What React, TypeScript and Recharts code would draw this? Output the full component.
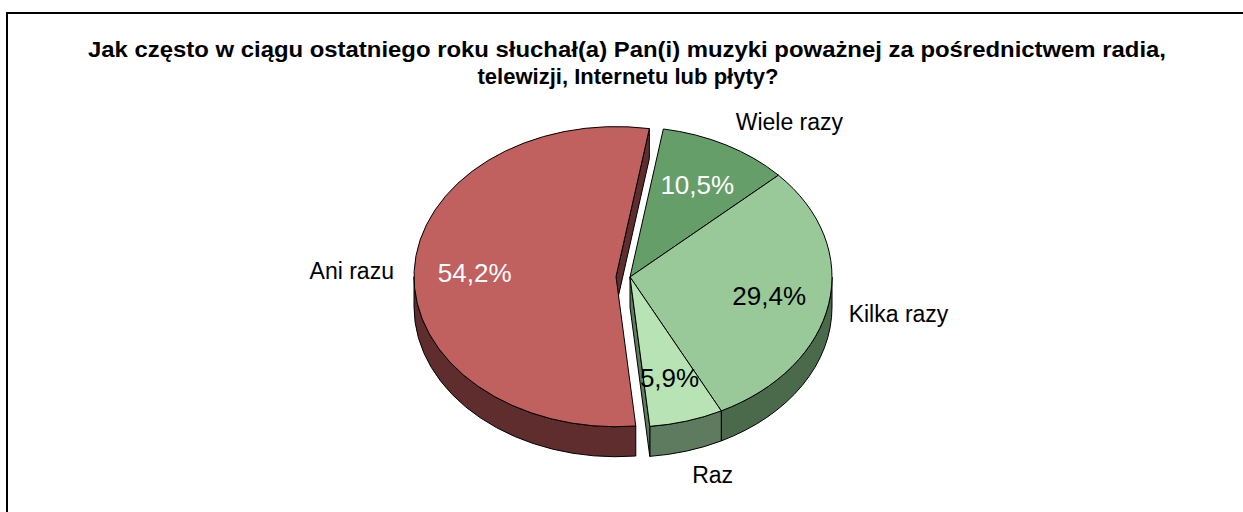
import { PieChart, Pie } from 'recharts';

const CATEGORIES = ['Wiele razy', 'Kilka razy', 'Raz', 'Ani razu'];
const PERCENTS = [10.5, 29.4, 5.9, 54.2];
const EXPLODED = ['Ani razu'];

const TITLE_LINES = [
  'Jak często w ciągu ostatniego roku słuchał(a) Pan(i) muzyki poważnej za pośrednictwem radia,',
  'telewizji, Internetu lub płyty?',
];

const TOP_COLORS = ['#669E6A', '#99C899', '#B8E4B5', '#C0605F'];
const SIDE_COLORS = ['#3F6342', '#4B6A4C', '#5E7A5F', '#5F2D2E'];
const PCT_COLORS = ['#ffffff', '#000000', '#000000', '#ffffff'];

const W = 1243;
const H = 512;
const CX = 630;
const CY = 277;
const RX = 202;
const TILT = 0.743; // vertical squash of the pie
const DEPTH = 30;
const EXPLODE = 14;
const FIRST_ANGLE = 9.5; // clockwise from 12 o'clock
const FONT = '"Liberation Sans", Arial, sans-serif';

const chartData = CATEGORIES.map((name, i) => ({ name, value: PERCENTS[i] }));

const RAD = Math.PI / 180;

const pt = (cx: number, cy: number, r: number, a: number) => [
  cx + r * Math.cos(a * RAD),
  cy - r * TILT * Math.sin(a * RAD),
];

const idxOf = (p: any) => CATEGORIES.indexOf(p.payload?.name ?? p.name);
const isExploded = (i: number) => EXPLODED.includes(CATEGORIES[(i + CATEGORIES.length) % CATEGORIES.length]);

const centerOf = (p: any, i: number) => {
  const mid = p.midAngle ?? (p.startAngle + p.endAngle) / 2;
  const ex = isExploded(i) ? EXPLODE : 0;
  return [p.cx + ex * Math.cos(mid * RAD), p.cy - ex * TILT * Math.sin(mid * RAD)];
};

// side walls + cut faces of each slice
const WallShape = (p: any) => {
  const i = idxOf(p);
  const [cx, cy] = centerOf(p, i);
  const r = p.outerRadius;
  const ry = r * TILT;
  const s = p.startAngle;
  const e = p.endAngle;
  const hi = Math.max(s, e);
  const lo = Math.min(s, e);
  const fill = SIDE_COLORS[i];
  const parts: any[] = [];

  for (let k = -2; k <= 2; k++) {
    const a0 = Math.max(lo, -180 + 360 * k);
    const a1 = Math.min(hi, 360 * k);
    if (a1 > a0) {
      const [x1, y1] = pt(cx, cy, r, a1);
      const [x0, y0] = pt(cx, cy, r, a0);
      const large = a1 - a0 > 180 ? 1 : 0;
      parts.push(
        <path
          key={`w${k}`}
          d={`M${x1},${y1} A${r},${ry} 0 ${large} 1 ${x0},${y0} L${x0},${y0 + DEPTH} A${r},${ry} 0 ${large} 0 ${x1},${y1 + DEPTH} Z`}
          fill={fill}
          stroke="#000"
          strokeWidth={1}
        />
      );
    }
  }

  const face = (a: number, key: string) => {
    const [x, y] = pt(cx, cy, r, a);
    return (
      <path
        key={key}
        d={`M${cx},${cy} L${x},${y} L${x},${y + DEPTH} L${cx},${cy + DEPTH} Z`}
        fill={fill}
        stroke="#000"
        strokeWidth={1}
      />
    );
  };
  if (Math.cos(s * RAD) < 0 && (isExploded(i) || isExploded(i - 1))) parts.push(face(s, 'fs'));
  if (Math.cos(e * RAD) > 0 && (isExploded(i) || isExploded(i + 1))) parts.push(face(e, 'fe'));

  return <g>{parts}</g>;
};

const TopShape = (p: any) => {
  const i = idxOf(p);
  const [cx, cy] = centerOf(p, i);
  const r = p.outerRadius;
  const [xs, ys] = pt(cx, cy, r, p.startAngle);
  const [xe, ye] = pt(cx, cy, r, p.endAngle);
  const large = Math.abs(p.startAngle - p.endAngle) > 180 ? 1 : 0;
  return (
    <path
      d={`M${cx},${cy} L${xs},${ys} A${r},${r * TILT} 0 ${large} 1 ${xe},${ye} Z`}
      fill={TOP_COLORS[i]}
      stroke="#000"
      strokeWidth={1}
    />
  );
};

const renderLabel = (p: any) => {
  const i = idxOf(p);
  const [cx, cy] = centerOf(p, i);
  const r = p.outerRadius;
  const mid = p.midAngle;
  const c = Math.cos(mid * RAD);
  const s = Math.sin(mid * RAD);
  const [px, py] = pt(cx, cy, r * 0.7, mid);
  const [ox, oy0] = pt(cx, cy, r * 1.1, mid);
  const oy = oy0 + (s < 0 ? -s * DEPTH : 0) - 11.5 * s;
  const anchor = c > 0.2 ? 'start' : c < -0.2 ? 'end' : 'middle';
  const value = PERCENTS[i];
  return (
    <g key={`lbl-${i}`}>
      <text x={px} y={py} textAnchor="middle" dominantBaseline="central" fill={PCT_COLORS[i]} fontSize={26} fontFamily={FONT}>
        {value.toFixed(1).replace('.', ',')}%
      </text>
      <text x={ox} y={oy} textAnchor={anchor} dominantBaseline="central" fill="#000" fontSize={23} fontFamily={FONT}>
        {CATEGORIES[i]}
      </text>
    </g>
  );
};

export default function App() {
  return (
    <div style={{ position: 'absolute', left: 0, top: 0, width: W, height: H, overflow: 'hidden', background: '#fff' }}>
      <div
        style={{
          position: 'absolute',
          left: 6,
          top: 12,
          width: W + 100,
          height: H + 100,
          border: '2px solid #000',
          boxSizing: 'border-box',
        }}
      />
      <div style={{ position: 'absolute', left: 0, top: 0 }}>
        <PieChart width={W} height={H} margin={{ top: 0, right: 0, bottom: 0, left: 0 }}>
          <Pie
            data={chartData}
            dataKey="value"
            nameKey="name"
            cx={CX}
            cy={CY}
            outerRadius={RX}
            startAngle={90 - FIRST_ANGLE}
            endAngle={90 - FIRST_ANGLE - 360}
            shape={WallShape}
            isAnimationActive={false}
          />
          <Pie
            data={chartData}
            dataKey="value"
            nameKey="name"
            cx={CX}
            cy={CY}
            outerRadius={RX}
            startAngle={90 - FIRST_ANGLE}
            endAngle={90 - FIRST_ANGLE - 360}
            shape={TopShape}
            label={renderLabel}
            labelLine={false}
            isAnimationActive={false}
          />
        </PieChart>
      </div>
      <svg width={W} height={H} style={{ position: 'absolute', left: 0, top: 0, pointerEvents: 'none' }}>
        <text x={627} y={57} textAnchor="middle" fontSize={22} fontWeight="bold" fontFamily={FONT} textLength={1078} lengthAdjust="spacingAndGlyphs">
          {TITLE_LINES[0]}
        </text>
        <text x={628} y={84} textAnchor="middle" fontSize={22} fontWeight="bold" fontFamily={FONT} textLength={301} lengthAdjust="spacingAndGlyphs">
          {TITLE_LINES[1]}
        </text>
      </svg>
    </div>
  );
}
